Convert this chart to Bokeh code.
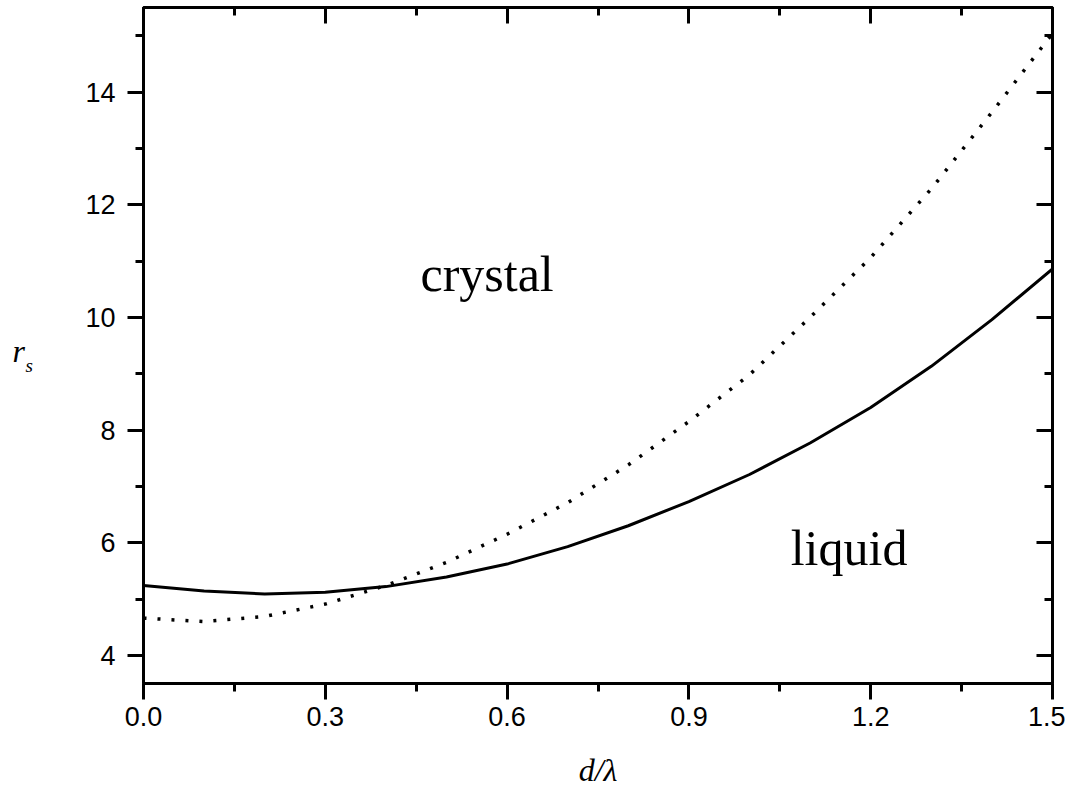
from bokeh.plotting import figure
from bokeh.layouts import row
from bokeh.models import LinearAxis, FixedTicker, PrintfTickFormatter, Label, Range1d
from bokeh.embed import file_html
from bokeh.resources import INLINE

# ---- data ----
x_solid = [0.0, 0.1, 0.2, 0.3, 0.4, 0.5, 0.6, 0.7, 0.8, 0.9, 1.0, 1.1, 1.2, 1.3, 1.4, 1.5]
y_solid = [5.24, 5.14, 5.09, 5.12, 5.22, 5.39, 5.62, 5.93, 6.30, 6.73, 7.21, 7.77, 8.40, 9.13, 9.96, 10.86]
x_dotted = [0.0, 0.1, 0.2, 0.3, 0.4, 0.5, 0.6, 0.7, 0.8, 0.9, 1.0, 1.1, 1.2, 1.3, 1.4, 1.5]
y_dotted = [4.66, 4.60, 4.69, 4.91, 5.24, 5.65, 6.15, 6.71, 7.38, 8.15, 8.98, 10.00, 11.06, 12.28, 13.64, 15.04]
x_major = [0.0, 0.3, 0.6, 0.9, 1.2, 1.5]
x_minor = [0.15, 0.45, 0.75, 1.05, 1.35]
y_major = [4, 6, 8, 10, 12, 14]
y_minor = [5, 7, 9, 11, 13, 15]
region_labels = ["crystal", "liquid"]
region_x = [0.457, 1.068]
region_y = [10.77, 5.90]
x_label = "d/λ"
y_label_main = "r"
y_label_sub = "s"

TOTAL_W = 1065
LAB_W = 60
MAIN_H = 790
TOP_B, BOT_B = 7, 107

yr_ = Range1d(3.5, 15.5)

p = figure(width=TOTAL_W - LAB_W, height=MAIN_H, x_range=(0, 1.5), y_range=yr_, title=None,
           output_backend="svg", toolbar_location=None,
           min_border_left=143 - LAB_W, min_border_right=13, min_border_top=TOP_B, min_border_bottom=BOT_B,
           x_axis_location=None, y_axis_location=None)
p.grid.visible = False
p.outline_line_color = "black"
p.outline_line_width = 3
p.background_fill_color = "white"
p.border_fill_color = "white"

xt = FixedTicker(ticks=x_major, minor_ticks=x_minor)
yt = FixedTicker(ticks=y_major, minor_ticks=y_minor)

def style(ax, inward, show_labels):
    ax.axis_line_width = 3
    ax.axis_line_color = "black"
    ax.major_tick_line_width = 3
    ax.minor_tick_line_width = 3
    ax.major_tick_line_color = "black"
    ax.minor_tick_line_color = "black"
    if inward:
        ax.major_tick_in, ax.major_tick_out = 16, 0
        ax.minor_tick_in, ax.minor_tick_out = 8, 0
    else:
        ax.major_tick_in, ax.major_tick_out = 0, 16
        ax.minor_tick_in, ax.minor_tick_out = 0, 8
    ax.major_label_text_font = "Liberation Sans"
    ax.major_label_text_font_size = "27px"
    ax.major_label_text_color = "black"
    if not show_labels:
        ax.major_label_text_alpha = 0
        ax.major_label_text_font_size = "1px"
        ax.major_label_standoff = 0

xb = LinearAxis(ticker=xt, formatter=PrintfTickFormatter(format="%.1f"))
style(xb, False, True)
xb.major_label_standoff = 7
xb.axis_label = x_label
xb.axis_label_text_font = "Liberation Serif"
xb.axis_label_text_font_style = "italic"
xb.axis_label_text_font_size = "32px"
xb.axis_label_text_color = "black"
xb.axis_label_standoff = 23
p.add_layout(xb, "below")

yl = LinearAxis(ticker=yt, formatter=PrintfTickFormatter(format="%d"))
style(yl, False, True)
yl.major_label_standoff = 12
p.add_layout(yl, "left")

xa = LinearAxis(ticker=xt)
style(xa, True, False)
p.add_layout(xa, "above")

yr = LinearAxis(ticker=yt)
style(yr, True, False)
p.add_layout(yr, "right")

p.line(x_solid, y_solid, line_color="black", line_width=3)
p.line(x_dotted, y_dotted, line_color="black", line_width=3.5, line_dash="3 11")

for t, xx, yy in zip(region_labels, region_x, region_y):
    p.add_layout(Label(x=xx, y=yy, text=t, text_font="Liberation Serif",
                       text_font_size="50px", text_color="black",
                       text_baseline="alphabetic", text_align="left"))

# narrow panel holding the horizontal y-axis label
q = figure(width=LAB_W, height=MAIN_H, x_range=(0, LAB_W), y_range=yr_, title=None,
           output_backend="svg", toolbar_location=None,
           min_border_left=0, min_border_right=0, min_border_top=TOP_B, min_border_bottom=BOT_B,
           x_axis_location=None, y_axis_location=None)
q.grid.visible = False
q.outline_line_color = None
q.border_fill_color = "white"
q.background_fill_color = "white"
q.add_layout(Label(x=12, y=9.41, text=y_label_main, text_font="Liberation Serif",
                   text_font_style="italic", text_font_size="32px", text_color="black",
                   text_baseline="alphabetic", text_align="left"))
q.add_layout(Label(x=25, y=9.15, text=y_label_sub, text_font="Liberation Serif",
                   text_font_style="italic", text_font_size="19px", text_color="black",
                   text_baseline="alphabetic", text_align="left"))

layout = row(q, p, spacing=0)
open("out.html", "w").write(file_html(layout, INLINE))
